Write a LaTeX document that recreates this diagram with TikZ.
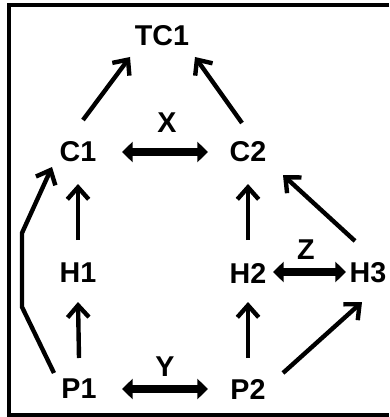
\documentclass[tikz,border=0pt]{standalone}
\usepackage{fontspec}
\setmainfont{Liberation Sans}
\usetikzlibrary{arrows.meta}

\begin{document}
\begin{tikzpicture}[x=0.75pt,y=-0.75pt,
    every node/.style={font=\fontsize{21.5}{26}\selectfont\bfseries,inner sep=0pt},
    link/.style={line width=3.3pt,-{Straight Barb[length=9pt,width=16pt]}},
    both/.style={line width=6pt,{Triangle[length=8pt,width=15pt]}-{Triangle[length=8pt,width=15pt]}}]
\useasboundingbox (0,0) rectangle (389,417);
\draw[line width=3pt] (389,5.5) -| (9,415) -- (389,415);

\node (TC1) at (162,36) {TC1};
\node (C1) at (78,152) {C1};
\node (C2) at (248,152) {C2};
\node (H1) at (78,273) {H1};
\node (H2) at (248,273) {H2};
\node (H3) at (368,273) {H3};
\node (P1) at (79,389) {P1};
\node (P2) at (248,389) {P2};

\node (X) at (167,123) {X};
\node (Y) at (165,367) {Y};
\node (Z) at (306,250) {Z};

\draw[link] ([shift={(5,-32)}]C1.center) -- ([shift={(-32,21)}]TC1.center);
\draw[link] ([shift={(-6,-29)}]C2.center) -- ([shift={(33,21)}]TC1.center);
\draw[link] ([shift={(0,-33)}]H1.center) -- ([shift={(0,32)}]C1.center);
\draw[link] ([shift={(0,-31)}]P1.center) -- ([shift={(0,29)}]H1.center);
\draw[link] ([shift={(0,-33)}]H2.center) -- ([shift={(0,32)}]C2.center);
\draw[link] ([shift={(0,-31)}]P2.center) -- ([shift={(0,29)}]H2.center);
\draw[link] ([shift={(35,-16)}]P2.center) -- ([shift={(-6,29)}]H3.center);
\draw[link] ([shift={(-13,-32)}]H3.center) -- ([shift={(35,23)}]C2.center);
\draw[link] ([shift={(-25,-16)}]P1.center) -- (22,307) -- (22,233) -- ([shift={(-26,15)}]C1.center);

\draw[both] ([shift={(44,0)}]C1.center) -- ([shift={(-40,0)}]C2.center);
\draw[both] ([shift={(43,0)}]P1.center) -- ([shift={(-40,0)}]P2.center);
\draw[both] ([shift={(25,-1)}]H2.center) -- ([shift={(-22,-1)}]H3.center);
\end{tikzpicture}
\end{document}
